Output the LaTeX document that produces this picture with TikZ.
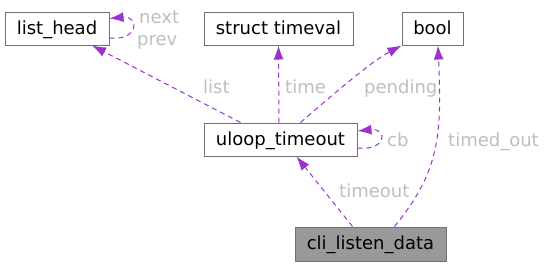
\documentclass[tikz,border=0pt]{standalone}
\usepackage{fontspec}
\setmainfont{DejaVu Sans}
\usetikzlibrary{arrows.meta}
\definecolor{edgepurple}{HTML}{9A32CD}
\definecolor{labelgray}{HTML}{BEBEBE}
\definecolor{boxborder}{HTML}{707070}
\definecolor{boxfill}{HTML}{999999}

\begin{document}
\begin{tikzpicture}[x=1pt, y=-1pt,
    font=\fontsize{18}{20}\selectfont,
    >={Latex[length=14pt,width=10pt]},
    structbox/.style={draw=boxborder, line width=1pt, fill=white, minimum height=33pt,
        inner sep=0pt, text height=13.5pt, text depth=2.5pt},
    member/.style={->, edgepurple, line width=1pt, dash pattern=on 5pt off 4pt},
    memberlabel/.style={labelgray, anchor=base west, inner sep=0pt}]
    \useasboundingbox (0,0) rectangle (544,266);
    % Structs
    \node[structbox, minimum width=104pt] (list_head) at (57,28.5) {list\_head};
    \node[structbox, minimum width=149pt] (timeval) at (278.5,28.5) {struct timeval};
    \node[structbox, minimum width=61pt] (bool) at (432.5,28.5) {bool};
    \node[structbox, minimum width=153pt] (uloop) at (280.5,139.5) {uloop\_timeout};
    \node[structbox, fill=boxfill, minimum width=151pt, minimum height=34pt] (cli) at (370.5,244) {cli\_listen\_data};
    % Members of list_head
    \draw[member] ([yshift=-9.5pt]list_head.east) .. controls +(30,3) and +(30,-3) .. ([yshift=10pt]list_head.east);
    \node[memberlabel] (lbl-next) at (139,23) {next};
    \node[memberlabel] (lbl-prev) at (137,45) {prev};
    % Members of uloop_timeout
    \draw[member] ([xshift=-40pt]uloop.north) -- ([xshift=35pt]list_head.south);
    \node[memberlabel] (lbl-list) at (203,93) {list};
    \draw[member] ([xshift=-1.5pt]uloop.north) -- (timeval.south);
    \node[memberlabel] (lbl-time) at (285,93) {time};
    \draw[member] ([xshift=20pt]uloop.north) .. controls +(28,-24) and +(-32,17) .. (bool.south west);
    \node[memberlabel] (lbl-pending) at (364,93) {pending};
    \draw[member] ([yshift=-8.5pt]uloop.east) .. controls +(30,3) and +(30,-3) .. ([yshift=8.5pt]uloop.east);
    \node[memberlabel] (lbl-cb) at (387,146) {cb};
    % Members of cli_listen_data
    \draw[member] ([xshift=-18pt]cli.north) -- ([xshift=16pt]uloop.south);
    \node[memberlabel] (lbl-timeout) at (339,197) {timeout};
    \draw[member] ([xshift=24pt]cli.north) .. controls +(45,-55) and +(4,90) .. ([xshift=5.5pt]bool.south);
    \node[memberlabel] (lbl-timed-out) at (448,146) {timed\_out};
\end{tikzpicture}
\end{document}
